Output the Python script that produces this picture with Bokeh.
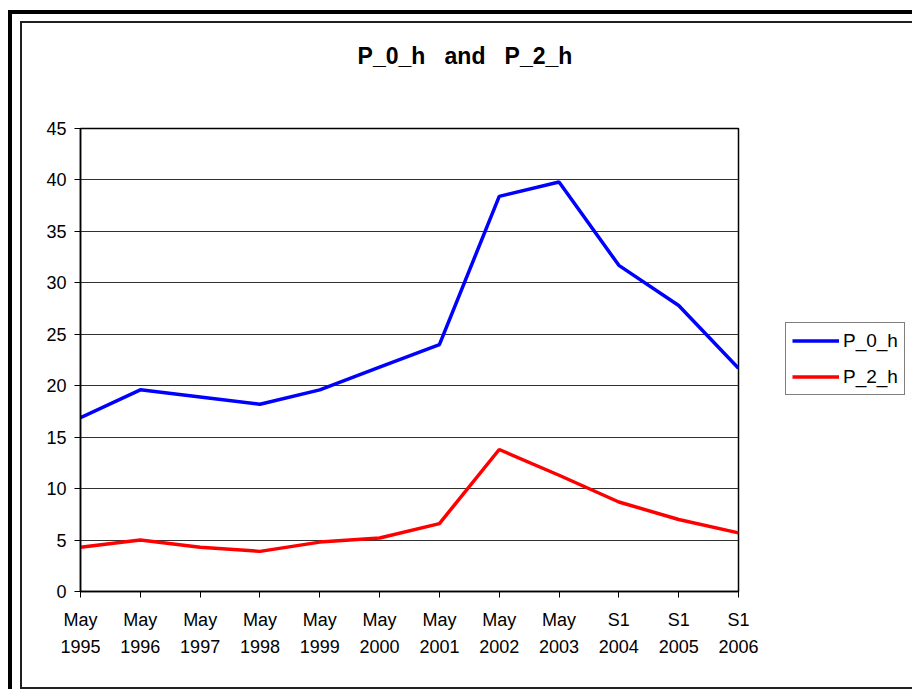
from bokeh.plotting import figure
from bokeh.layouts import column
from bokeh.models import (Range1d, FixedTicker, Legend, LegendItem, Div)
from bokeh.embed import file_html
from bokeh.resources import INLINE

# ---- data ----
categories = ["May\n1995", "May\n1996", "May\n1997", "May\n1998", "May\n1999",
              "May\n2000", "May\n2001", "May\n2002", "May\n2003",
              "S1\n2004", "S1\n2005", "S1\n2006"]
p_0_h = [16.9, 19.6, 18.9, 18.2, 19.6, 21.8, 24.0, 38.4, 39.8, 31.7, 27.8, 21.7]
p_2_h = [4.3, 5.0, 4.3, 3.9, 4.8, 5.2, 6.6, 13.8, 11.3, 8.7, 7.0, 5.7]
y_ticks = [0, 5, 10, 15, 20, 25, 30, 35, 40, 45]
NB = "&nbsp;"
title_html = "P_0_h" + NB * 3 + "and" + NB * 3 + "P_2_h"

FONT = "Liberation Sans"
xs = list(range(len(categories)))

title_div = Div(
    text=('<div style="font-family:\'Liberation Sans\';font-weight:bold;'
          'font-size:23px;line-height:23px;color:black;text-align:center;'
          'padding-top:22px;width:886px;">' + title_html + '</div>'),
    width=886, height=60, margin=0)

# figure sits inside the inner border at page (22, 83)
p = figure(frame_width=658, frame_height=463, output_backend="svg",
           toolbar_location=None, margin=0,
           x_range=Range1d(0, len(categories) - 1), y_range=Range1d(0, 45),
           min_border_left=58, min_border_right=170,
           min_border_top=45, min_border_bottom=96)
p.background_fill_color = "white"
p.border_fill_color = "white"
p.outline_line_color = "black"
p.outline_line_width = 1.5

# axes
p.xaxis.ticker = FixedTicker(ticks=xs)
p.xaxis.major_label_overrides = {i: c for i, c in zip(xs, categories)}
p.xaxis.major_label_orientation = "horizontal"
p.yaxis.ticker = FixedTicker(ticks=y_ticks)
for ax in (p.xaxis[0], p.yaxis[0]):
    ax.axis_line_color = "black"
    ax.axis_line_width = 1.5
    ax.major_tick_line_color = "black"
    ax.major_tick_line_width = 1
    ax.major_tick_in = 0
    ax.major_tick_out = 6
    ax.minor_tick_line_color = None
    ax.major_label_text_font = FONT
    ax.major_label_text_font_size = "18px"
    ax.major_label_text_color = "black"
p.xaxis.major_label_standoff = 12
p.xaxis[0].major_label_text_line_height = 1.35
p.yaxis.major_label_standoff = 8

p.xgrid.grid_line_color = None
p.ygrid.grid_line_color = "#303030"
p.ygrid.grid_line_width = 1

r0 = p.line(xs, p_0_h, line_color="#0000FF", line_width=3.5)
r2 = p.line(xs, p_2_h, line_color="#FF0000", line_width=3.5)

legend = Legend(items=[LegendItem(label="P_0_h", renderers=[r0]),
                       LegendItem(label="P_2_h", renderers=[r2])],
                location=(47, 196), orientation="vertical",
                border_line_color="black", border_line_width=1.5,
                background_fill_color="white",
                padding=6, margin=0, spacing=13,
                glyph_width=47, glyph_height=23, label_height=23,
                label_standoff=4,
                label_text_font=FONT, label_text_font_size="19px",
                label_text_color="black")
p.add_layout(legend, "right")

inner_box = column(title_div, p, spacing=0,
                   styles={"border": "2px solid #202020",
                           "background-color": "white"})
outer_box = column(inner_box, styles={
    "margin-left": "8px", "margin-top": "10px",
    "border-left": "4px solid black", "border-top": "4px solid black",
    "padding-left": "8px", "padding-top": "7px"})

open("out.html", "w").write(file_html(outer_box, INLINE))
